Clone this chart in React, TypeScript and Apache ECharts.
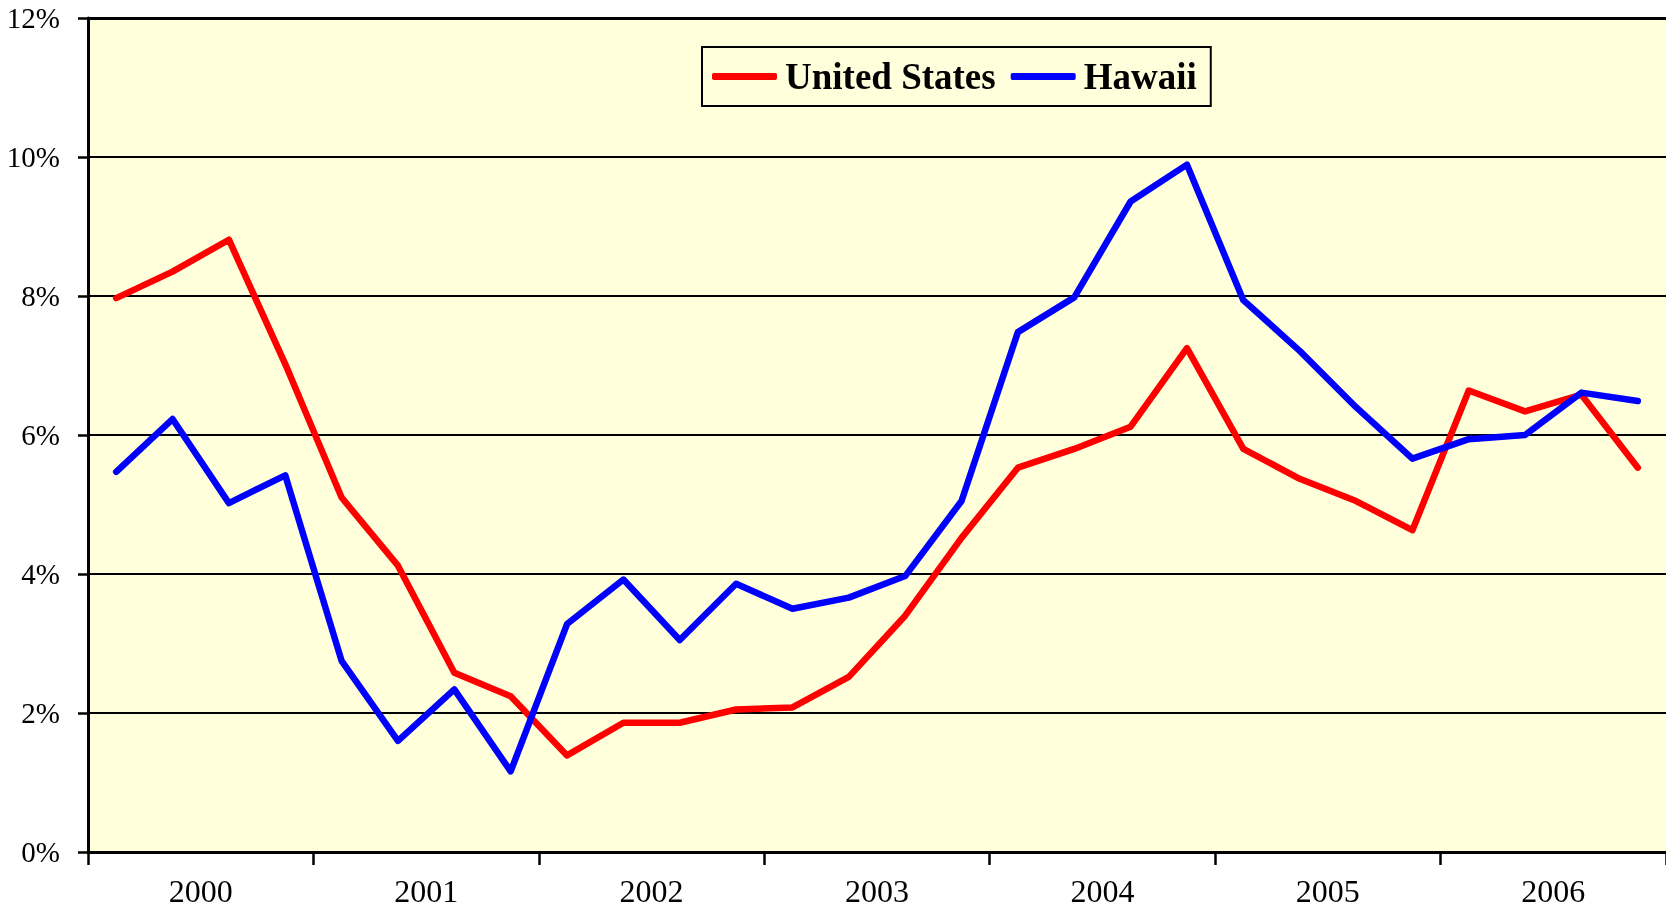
import React, { useEffect, useRef } from "react";
import * as echarts from "echarts";

const years = ["2000", "2001", "2002", "2003", "2004", "2005", "2006"];
const quarters = years.flatMap((y) => ["Q1", "Q2", "Q3", "Q4"].map((q) => `${y} ${q}`));
const unitedStates = [
  7.97, 8.35, 8.81, 7.02, 5.1, 4.12, 2.58, 2.24, 1.39, 1.86, 1.86, 2.05, 2.08, 2.52,
  3.4, 4.52, 5.53, 5.8, 6.12, 7.25, 5.8, 5.37, 5.05, 4.63, 6.64, 6.34, 6.58, 5.53,
];
const hawaii = [
  5.47, 6.23, 5.02, 5.42, 2.75, 1.6, 2.34, 1.16, 3.28, 3.92, 3.05, 3.86, 3.5, 3.66,
  3.97, 5.05, 7.48, 7.98, 9.36, 9.89, 7.94, 7.21, 6.4, 5.66, 5.94, 6.0, 6.61, 6.49,
];
const yTicks = [0, 2, 4, 6, 8, 10, 12];

export default function App() {
  const ref = useRef<HTMLDivElement>(null);
  useEffect(() => {
    if (!ref.current) return;
    const chart = echarts.init(ref.current, null, { renderer: "svg" });
    const font = "Liberation Serif";
    chart.setOption({
      animation: false,
      grid: { left: 88, top: 18, right: -5, bottom: 57, show: true, backgroundColor: "#FFFFDC", borderWidth: 0 },
      legend: {
        left: 702,
        top: 47,
        padding: [11, 14, 11, 10],
        itemGap: 15,
        itemWidth: 65,
        itemHeight: 7,
        icon: "roundRect",
        borderColor: "#000",
        borderWidth: 2,
        backgroundColor: "#FFFFDC",
        textStyle: { fontFamily: font, fontWeight: "bold", fontSize: 37, color: "#000", padding: [0, 0, 0, 3] },
        data: ["United States", "Hawaii"],
      },
      xAxis: [
        {
          type: "category",
          data: quarters,
          boundaryGap: true,
          show: false,
        },
        {
          type: "category",
          data: years,
          boundaryGap: true,
          position: "bottom",
          axisLine: { show: true, lineStyle: { color: "#000", width: 3 } },
          axisTick: { show: true, length: 13, lineStyle: { color: "#000", width: 2.5 } },
          axisLabel: { fontFamily: font, fontSize: 32, color: "#000", margin: 23 },
        },
        {
          type: "category",
          data: years,
          position: "top",
          axisLine: { show: true, lineStyle: { color: "#000", width: 3 } },
          axisTick: { show: false },
          axisLabel: { show: false },
        },
      ],
      yAxis: {
        type: "value",
        min: 0,
        max: 12,
        interval: 2,
        axisLine: { show: true, lineStyle: { color: "#000", width: 3 } },
        axisTick: { show: true, length: 10, lineStyle: { color: "#000", width: 2.5 } },
        axisLabel: {
          fontFamily: font,
          fontSize: 29,
          color: "#000",
          margin: 28,
          formatter: (v: number) => (yTicks.includes(v) ? `${v}%` : ""),
        },
        splitLine: { show: true, lineStyle: { color: "#000", width: 2 } },
      },
      series: [
        {
          name: "United States",
          type: "line",
          xAxisIndex: 0,
          data: unitedStates,
          symbol: "none",
          lineStyle: { color: "#FF0000", width: 6.5, join: "round", cap: "round" },
          itemStyle: { color: "#FF0000" },
        },
        {
          name: "Hawaii",
          type: "line",
          xAxisIndex: 0,
          data: hawaii,
          symbol: "none",
          lineStyle: { color: "#0000FF", width: 6.5, join: "round", cap: "round" },
          itemStyle: { color: "#0000FF" },
        },
      ],
    });
    return () => chart.dispose();
  }, []);
  return <div ref={ref} style={{ position: "fixed", left: 0, top: 0, width: 1666, height: 909 }} />;
}
